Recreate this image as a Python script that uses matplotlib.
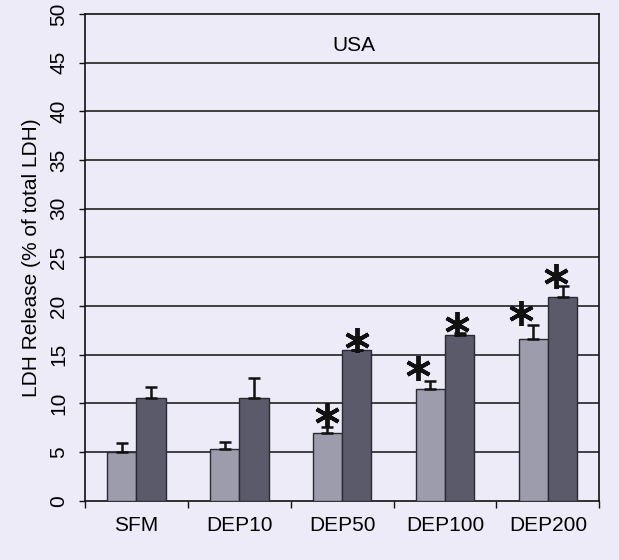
import matplotlib
matplotlib.use("Agg")
import matplotlib.pyplot as plt
import numpy as np

plt.rcParams['font.family'] = ['Liberation Sans', 'DejaVu Sans']

categories = ["SFM", "DEP10", "DEP50", "DEP100", "DEP200"]
light_vals = [5.0, 5.3, 6.95, 11.5, 16.6]
light_err = [0.9, 0.7, 0.6, 0.8, 1.4]
dark_vals = [10.6, 10.6, 15.5, 17.0, 20.9]
dark_err = [1.1, 2.0, 0.0, 0.2, 1.2]
light_sig = [False, False, True, True, True]
dark_sig = [False, False, True, True, True]
yticks = [0, 5, 10, 15, 20, 25, 30, 35, 40, 45, 50]

bg = '#ecebf7'
fig = plt.figure(figsize=(6.19, 5.6), dpi=100, facecolor=bg)
ax = fig.add_axes([85/619, 1 - 500.7/560, (599.3-85)/619, (500.7-14)/560], facecolor=bg)

x = np.arange(len(categories))
w = 0.285
c_light = '#9d9cad'
c_dark = '#5b5a6b'

for v in yticks[1:-1]:
    ax.axhline(v, color='#111111', lw=1.1, zorder=1)

ax.bar(x - w/2, light_vals, w, color=c_light, edgecolor='#2a2a33', lw=1.0, zorder=3)
ax.bar(x + w/2, dark_vals, w, color=c_dark, edgecolor='#2a2a33', lw=1.0, zorder=3)
ax.errorbar(x - w/2, light_vals, yerr=[np.zeros(len(x)), light_err], fmt='none',
            ecolor='#111111', elinewidth=1.8, capsize=4.5, capthick=1.8, zorder=4)
ax.errorbar(x + w/2, dark_vals, yerr=[np.zeros(len(x)), dark_err], fmt='none',
            ecolor='#111111', elinewidth=1.8, capsize=4.5, capthick=1.8, zorder=4)

# significance asterisks
light_dx = [0, 0, 0, -0.12, -0.12]
dark_dx = [0, 0, 0, -0.03, -0.06]
for i in range(len(x)):
    if light_sig[i]:
        ax.plot(x[i] - w/2 + light_dx[i], light_vals[i] + light_err[i] + 1.3, marker=(6, 2, 0),
                ms=18, mew=2.8, color='#111111', zorder=5, clip_on=False)
    if dark_sig[i]:
        ax.plot(x[i] + w/2 + dark_dx[i], dark_vals[i] + dark_err[i] + 1.0, marker=(6, 2, 0),
                ms=18, mew=2.8, color='#111111', zorder=5, clip_on=False)

ax.set_xlim(-0.5, len(categories) - 0.5)
ax.set_ylim(0, 50)
ax.set_yticks(yticks)
ax.set_yticklabels([str(t) for t in yticks], rotation=90, va='center', fontsize=15)
ax.set_xticks(np.arange(len(categories) + 1) - 0.5)
ax.set_xticklabels([])
ax.set_xticks(x, minor=True)
ax.set_xticklabels(categories, minor=True, fontsize=15)
ax.tick_params(axis='x', which='major', length=5, width=1, direction='out', color='#111111')
ax.tick_params(axis='x', which='minor', length=0, pad=11)
ax.tick_params(axis='y', length=4, width=1, direction='out', pad=8, color='#111111')
for s in ax.spines.values():
    s.set_color('#111111')
    s.set_linewidth(1.2)

ax.set_ylabel("LDH Release (% of total LDH)", fontsize=15, labelpad=6)
ax.text(0.523, 46.8, "USA", transform=ax.get_yaxis_transform(), ha='center', va='center', fontsize=15)

fig.savefig("out.png", dpi=100, facecolor=bg)
